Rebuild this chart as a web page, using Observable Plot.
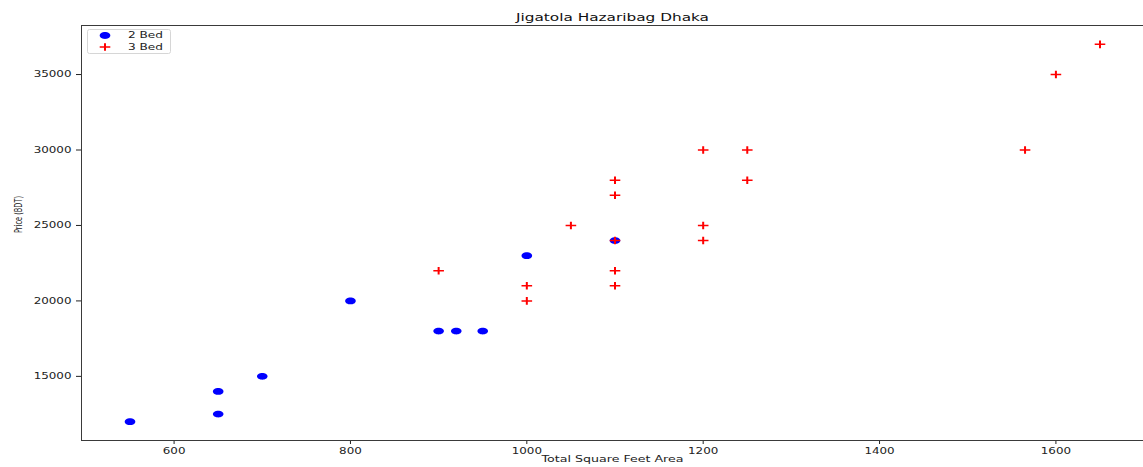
<!DOCTYPE html>
<html>
<head>
<meta charset="utf-8">
<script src="https://cdn.jsdelivr.net/npm/d3@7"></script>
<script src="https://cdn.jsdelivr.net/npm/@observablehq/plot@0.6"></script>
<style>
  html, body { margin: 0; padding: 0; background: white; overflow: hidden; }
  #chart { position: relative; width: 1143px; height: 467px; overflow: hidden; }
</style>
</head>
<body>
<div id="chart"></div>
<script>
// ---- data ----
const titleText = "Jigatola Hazaribag Dhaka";
const xLabelText = "Total Square Feet Area";
const yLabelText = "Price (BDT)";
const seriesNames = ["2 Bed", "3 Bed"];

const twoBedSqft  = [550, 650, 650, 700, 800, 900, 920, 950, 1000, 1100];
const twoBedPrice = [12000, 12500, 14000, 15000, 20000, 18000, 18000, 18000, 23000, 24000];

const threeBedSqft  = [900, 1000, 1000, 1050, 1100, 1100, 1100, 1100, 1100, 1200, 1200, 1200, 1250, 1250, 1565, 1600, 1650];
const threeBedPrice = [22000, 21000, 20000, 25000, 28000, 27000, 24000, 22000, 21000, 30000, 25000, 24000, 30000, 28000, 30000, 35000, 37000];

const xTicks = [600, 800, 1000, 1200, 1400, 1600];
const yTicks = [15000, 20000, 25000, 30000, 35000];
const xDomain = [495, 1705];
const yDomain = [10750, 38250];

// ---- build tables ----
const twoBed = twoBedSqft.map((s, i) => ({sqft: s, price: twoBedPrice[i]}));
const threeBed = threeBedSqft.map((s, i) => ({sqft: s, price: threeBedPrice[i]}));

// ---- marker shapes (stretched like the reference) ----
const ellipseSymbol = {
  draw(ctx) {
    const rx = 5.3, ry = 3.4, k = 0.5523;
    ctx.moveTo(rx, 0);
    ctx.bezierCurveTo(rx, k * ry, k * rx, ry, 0, ry);
    ctx.bezierCurveTo(-k * rx, ry, -rx, k * ry, -rx, 0);
    ctx.bezierCurveTo(-rx, -k * ry, -k * rx, -ry, 0, -ry);
    ctx.bezierCurveTo(k * rx, -ry, rx, -k * ry, rx, 0);
    ctx.closePath();
  }
};
const plusSymbol = {
  draw(ctx) {
    const hw = 5.3, hh = 0.75, vw = 1.0, vh = 3.8;
    ctx.moveTo(-hw, -hh); ctx.lineTo(hw, -hh); ctx.lineTo(hw, hh); ctx.lineTo(-hw, hh); ctx.closePath();
    ctx.moveTo(-vw, -vh); ctx.lineTo(vw, -vh); ctx.lineTo(vw, vh); ctx.lineTo(-vw, vh); ctx.closePath();
  }
};

const plot = Plot.plot({
  width: 1143,
  height: 467,
  marginTop: 25,
  marginBottom: 27,
  marginLeft: 81,
  marginRight: 0,
  style: {fontFamily: "'DejaVu Sans', sans-serif", fontSize: "8.5px", color: "#222", background: "white", overflow: "hidden"},
  x: {domain: xDomain, range: [81, 1148], ticks: xTicks, tickSize: 4, tickPadding: 3, label: null, tickFormat: "d"},
  y: {domain: yDomain, range: [440, 25], ticks: yTicks, tickSize: 5, tickPadding: 5, label: null, tickFormat: "d"},
  marks: [
    Plot.ruleY(yDomain, {stroke: "#3a3a3a", strokeWidth: 1}),
    Plot.ruleX([xDomain[0]], {stroke: "#3a3a3a", strokeWidth: 1}),
    Plot.dot(twoBed, {x: "sqft", y: "price", symbol: ellipseSymbol, fill: "blue", stroke: "none"}),
    Plot.dot(threeBed, {x: "sqft", y: "price", symbol: plusSymbol, fill: "red", stroke: "none"}),
    Plot.text([titleText], {text: d => d, frameAnchor: "top", dy: -5, lineAnchor: "bottom", fontSize: 10, fill: "#111"}),
    Plot.text([xLabelText], {text: d => d, frameAnchor: "bottom", dy: 21, fontSize: 9, fill: "#222"}),
    Plot.text([yLabelText], {text: d => d, frameAnchor: "left", dx: -63, rotate: -90, fontSize: 11, fill: "#222"})
  ]
});

document.getElementById("chart").appendChild(plot);

const svg = d3.select(plot);

// stretch text horizontally like the reference image
function setLen(el, len) {
  el.setAttribute("textLength", len);
  el.setAttribute("lengthAdjust", "spacingAndGlyphs");
}
svg.selectAll("g[aria-label='x-axis tick label'] text, g[aria-label='y-axis tick label'] text").each(function() {
  setLen(this, this.getComputedTextLength() * 1.4);
});
svg.selectAll("g[aria-label='text'] text").each(function() {
  const t = this.textContent;
  if (t === titleText) setLen(this, 193);
  else if (t === xLabelText) setLen(this, 142);
  else if (t === yLabelText) setLen(this, 37);
});

// legend
const legend = svg.append("g").attr("aria-label", "legend");
legend.append("rect")
  .attr("x", 87.5).attr("y", 29.5).attr("width", 83).attr("height", 24)
  .attr("rx", 2).attr("fill", "white").attr("fill-opacity", 0.8)
  .attr("stroke", "#d6d6d6");
const symPaths = [d3.symbol(ellipseSymbol)(), d3.symbol(plusSymbol)()];
const symColors = ["blue", "red"];
seriesNames.forEach((name, i) => {
  const cy = 35.5 + i * 11.5;
  legend.append("path").attr("d", symPaths[i]).attr("transform", `translate(105,${cy})`).attr("fill", symColors[i]);
  const t = legend.append("text").attr("x", 128).attr("y", cy).attr("dy", "0.35em")
    .attr("text-anchor", "start")
    .attr("font-size", 8.5).attr("fill", "#222").text(name);
  setLen(t.node(), 35);
});
</script>
</body>
</html>
